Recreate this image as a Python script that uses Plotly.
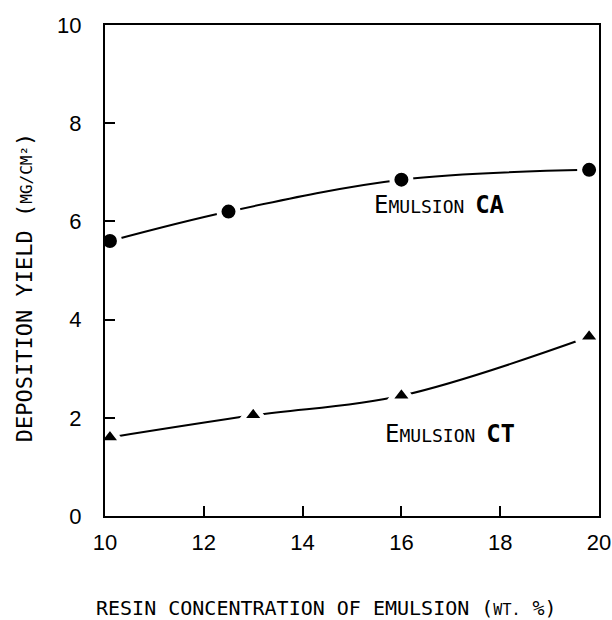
import plotly.graph_objects as go

# Data
ca_x = [10.1, 12.5, 16.0, 19.8]
ca_y = [5.6, 6.2, 6.85, 7.05]
ct_x = [10.1, 13.0, 16.0, 19.8]
ct_y = [1.6, 2.05, 2.45, 3.65]
x_ticks = [10, 12, 14, 16, 18, 20]
y_ticks = [0, 2, 4, 6, 8, 10]

MONO = "DejaVu Sans Mono, Liberation Mono, monospace"

fig = go.Figure()
for xs, ys, sym, sz in [(ca_x, ca_y, "circle", 19), (ct_x, ct_y, "triangle-up", 21)]:
    fig.add_trace(go.Scatter(
        x=xs, y=ys, mode="lines+markers",
        line=dict(color="black", width=2, shape="spline", smoothing=1.0),
        marker=dict(symbol=sym, size=sz, color="black",
                    line=dict(color="white", width=5)),
        showlegend=False, cliponaxis=False))

def emul(tag):
    return ("<span style='font-size:24px'>E</span>MULSION "
            f"<span style='font-size:24px'><b>{tag}</b></span>")

fig.add_annotation(x=15.4, y=6.33, xref="x", yref="y", xanchor="left", yanchor="middle",
                   text=emul("CA"), showarrow=False,
                   font=dict(family=MONO, size=18, color="black"))
fig.add_annotation(x=15.63, y=1.67, xref="x", yref="y", xanchor="left", yanchor="middle",
                   text=emul("CT"), showarrow=False,
                   font=dict(family=MONO, size=18, color="black"))

# axis titles
fig.add_annotation(x=0.449, y=-0.187, xref="paper", yref="paper",
                   xanchor="center", yanchor="middle",
                   text="RESIN CONCENTRATION OF EMULSION (<span style='font-size:15px'>WT.</span> %)",
                   showarrow=False, font=dict(family=MONO, size=20, color="black"))
fig.add_annotation(x=-0.164, y=0.466, xref="paper", yref="paper", textangle=-90,
                   xanchor="center", yanchor="middle",
                   text="DEPOSITION YIELD (<span style='font-size:16px'>MG/CM²</span>)",
                   showarrow=False, font=dict(family=MONO, size=22, color="black"))

axis_common = dict(ticks="inside", ticklen=10, tickwidth=2, tickcolor="black",
                   showline=True, linecolor="black", linewidth=2, mirror=True,
                   showgrid=False, zeroline=False, automargin=False,
                   tickfont=dict(family="Liberation Sans, sans-serif", size=22, color="black"))
fig.update_xaxes(range=[10, 20], tickvals=x_ticks, ticklabelstandoff=6, **axis_common)
fig.update_yaxes(range=[0, 10], tickvals=y_ticks, ticklabelstandoff=17, **axis_common)
fig.update_layout(width=612, height=620, plot_bgcolor="white", paper_bgcolor="white",
                  margin=dict(l=105, r=13, t=25, b=104))
fig.write_html("out.html", config={"displayModeBar": False},
               post_script="document.body.style.margin='0';document.body.style.overflow='hidden';")
